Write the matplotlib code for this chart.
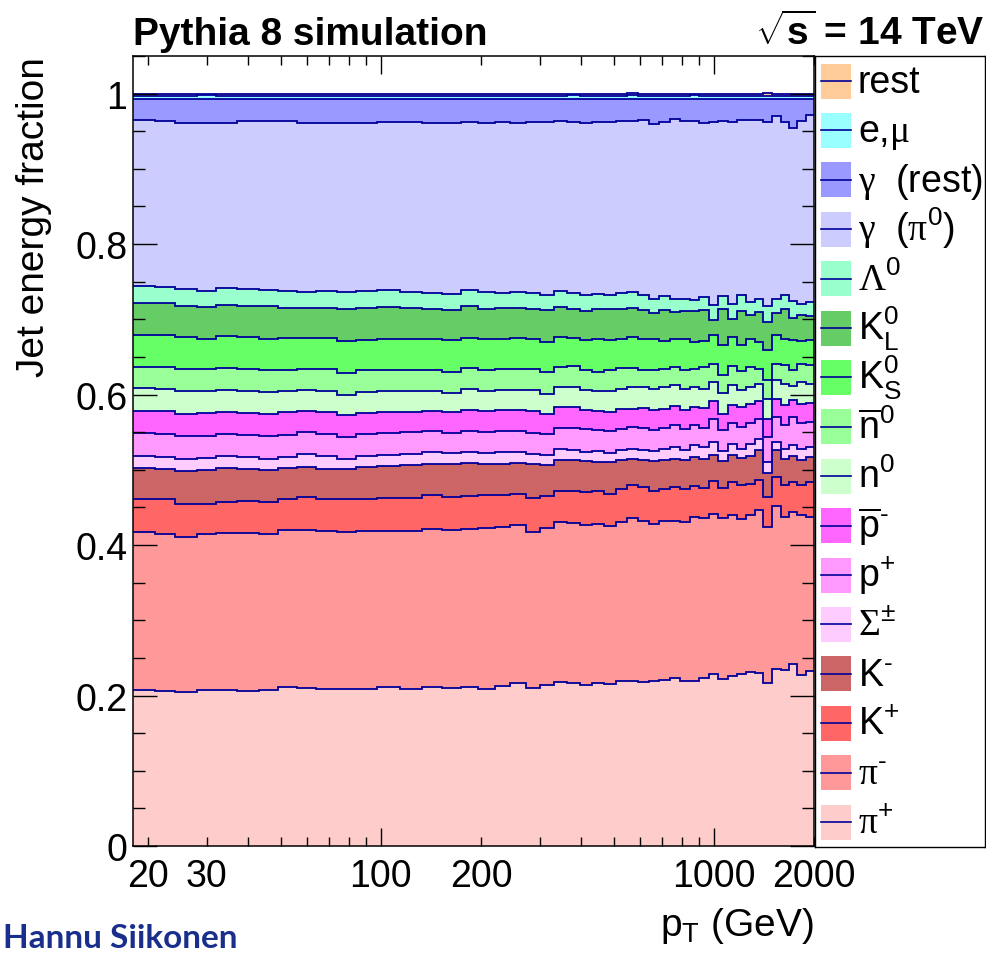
#Jet energy fraction carried by each particle species vs jet pT (stacked)
import numpy as np
import matplotlib
matplotlib.use("Agg")
import matplotlib.pyplot as plt
from matplotlib.patches import Rectangle

plt.rcParams['font.family'] = ['Liberation Sans', 'DejaVu Sans']
plt.rcParams['mathtext.fontset'] = 'custom'
plt.rcParams['mathtext.rm'] = 'Liberation Sans'
plt.rcParams['mathtext.it'] = 'Liberation Sans:italic'
plt.rcParams['mathtext.bf'] = 'Liberation Sans:bold'
plt.rcParams['mathtext.sf'] = 'Liberation Serif'

#pT bin edges (GeV)
pt_edges = [18, 21, 24, 28, 32, 37, 43, 49, 56, 64, 74, 84, 97, 114, 133, 153, 174, 196,
            220, 245, 272, 300, 330, 362, 395, 430, 468, 507, 548, 592, 638, 686, 737,
            790, 846, 905, 967, 1032, 1101, 1172, 1248, 1327, 1410, 1497, 1588, 1684,
            1784, 1890, 2000]

#energy fractions per bin, one list per species (bottom of the stack first)
pi_plus = [.2079, .2066, .2043, .2079, .2074, .2061, .2079, .2119, .2101, .2092, .2088, .2092,
           .2114, .2088, .2114, .2101, .2119, .2088, .2128, .2163, .2097, .2141, .2176, .2168,
           .2145, .2168, .2154, .2199, .2199, .2176, .2194, .2203, .2238, .2194, .2199, .2234,
           .2292, .2225, .2265, .2283, .2318, .2296, .2172, .2358, .2336, .2425, .2278, .2332]
pi_minus = [.2092, .2083, .2070, .2070, .2083, .2101, .2070, .2083, .2105, .2101, .2092, .2092,
            .2079, .2105, .2101, .2105, .2097, .2137, .2110, .2097, .2074, .2088, .2128, .2123,
            .2128, .2114, .2105, .2105, .2159, .2137, .2088, .2110, .2088, .2110, .2172, .2123,
            .2123, .2132, .2128, .2066, .2083, .2176, .2066, .2159, .2035, .2012, .2123, .2039]
k_plus = [.0443, .0457, .0434, .0399, .0412, .0430, .0421, .0412, .0430, .0421, .0426, .0426,
          .0430, .0430, .0452, .0439, .0430, .0434, .0430, .0421, .0452, .0417, .0408, .0434,
          .0430, .0430, .0421, .0443, .0434, .0457, .0430, .0434, .0443, .0443, .0412, .0399,
          .0430, .0399, .0443, .0443, .0412, .0386, .0399, .0386, .0421, .0399, .0399, .0465]
k_minus = [.0408, .0408, .0434, .0452, .0457, .0421, .0430, .0408, .0399, .0399, .0408, .0421,
           .0434, .0443, .0412, .0430, .0443, .0421, .0412, .0408, .0457, .0412, .0412, .0412,
           .0412, .0390, .0430, .0390, .0355, .0355, .0399, .0390, .0377, .0377, .0386, .0390,
           .0355, .0355, .0355, .0363, .0368, .0399, .0324, .0355, .0346, .0346, .0324, .0332]
sigma_pm = [.0168, .0155, .0164, .0155, .0155, .0155, .0146, .0146, .0177, .0168, .0133, .0151,
            .0146, .0146, .0155, .0146, .0146, .0146, .0155, .0146, .0133, .0133, .0155, .0120,
            .0120, .0142, .0115, .0120, .0133, .0133, .0133, .0142, .0155, .0133, .0155, .0155,
            .0168, .0133, .0155, .0124, .0164, .0146, .0142, .0111, .0142, .0151, .0155, .0133]
p_plus = [.0297, .0310, .0310, .0293, .0297, .0301, .0310, .0301, .0288, .0297, .0288, .0288,
          .0284, .0288, .0279, .0270, .0279, .0275, .0275, .0275, .0275, .0288, .0275, .0297,
          .0301, .0279, .0288, .0288, .0288, .0297, .0279, .0275, .0288, .0288, .0266, .0253,
          .0310, .0279, .0279, .0288, .0279, .0275, .0332, .0332, .0310, .0368, .0346, .0332]
p_bar = [.0297, .0297, .0288, .0306, .0288, .0284, .0288, .0297, .0288, .0288, .0288, .0284,
         .0279, .0275, .0275, .0275, .0275, .0275, .0279, .0279, .0288, .0266, .0279, .0279,
         .0253, .0253, .0262, .0257, .0244, .0266, .0266, .0257, .0257, .0244, .0244, .0266,
         .0230, .0222, .0230, .0266, .0253, .0230, .0244, .0244, .0266, .0222, .0253, .0257]
n_zero = [.0301, .0301, .0310, .0293, .0301, .0301, .0288, .0279, .0279, .0275, .0275, .0279,
          .0279, .0279, .0253, .0257, .0279, .0270, .0266, .0266, .0279, .0266, .0266, .0266,
          .0266, .0266, .0279, .0275, .0288, .0279, .0288, .0288, .0275, .0279, .0266, .0257,
          .0257, .0279, .0266, .0222, .0222, .0235, .0266, .0244, .0288, .0191, .0288, .0253]
n_bar = [.0284, .0284, .0288, .0288, .0284, .0288, .0301, .0288, .0275, .0293, .0293, .0288,
         .0288, .0275, .0279, .0275, .0284, .0284, .0279, .0288, .0279, .0288, .0266, .0275,
         .0266, .0257, .0266, .0275, .0257, .0230, .0244, .0244, .0244, .0253, .0244, .0288,
         .0244, .0230, .0253, .0253, .0266, .0199, .0244, .0222, .0244, .0208, .0244, .0244]
k_short = [.0426, .0426, .0421, .0403, .0426, .0417, .0408, .0421, .0412, .0417, .0421, .0408,
           .0408, .0412, .0421, .0430, .0403, .0403, .0408, .0412, .0408, .0399, .0399, .0381,
           .0399, .0434, .0399, .0390, .0408, .0412, .0421, .0363, .0377, .0412, .0355, .0341,
           .0377, .0399, .0390, .0346, .0377, .0355, .0399, .0377, .0355, .0399, .0297, .0332]
k_long = [.0421, .0426, .0421, .0426, .0417, .0421, .0430, .0399, .0395, .0399, .0421, .0421,
          .0421, .0412, .0399, .0390, .0421, .0408, .0412, .0399, .0399, .0421, .0399, .0386,
          .0390, .0399, .0412, .0399, .0386, .0377, .0346, .0412, .0355, .0372, .0412, .0412,
          .0199, .0479, .0235, .0452, .0310, .0399, .0377, .0301, .0390, .0297, .0346, .0319]
lambda_zero = [.0222, .0217, .0222, .0213, .0217, .0217, .0217, .0230, .0213, .0222, .0226, .0226,
               .0230, .0208, .0208, .0217, .0208, .0222, .0199, .0208, .0208, .0199, .0217, .0213,
               .0217, .0208, .0195, .0213, .0213, .0199, .0186, .0186, .0168, .0168, .0142, .0177,
               .0199, .0173, .0208, .0213, .0177, .0168, .0213, .0177, .0195, .0222, .0155, .0191]
gamma_pi0 = [.2216, .2207, .2207, .2238, .2203, .2234, .2243, .2252, .2252, .2234, .2247, .2238,
             .2230, .2261, .2265, .2270, .2238, .2247, .2265, .2252, .2270, .2305, .2252, .2270,
             .2287, .2278, .2296, .2278, .2270, .2327, .2327, .2318, .2403, .2363, .2380, .2318,
             .2438, .2327, .2416, .2336, .2425, .2380, .2447, .2438, .2296, .2309, .2429, .2482]
gamma_rest = [.0271, .0288, .0311, .0311, .0311, .0293, .0293, .0288, .0311, .0319, .0319, .0311,
              .0302, .0302, .0311, .0319, .0302, .0315, .0306, .0311, .0306, .0302, .0293, .0302,
              .0311, .0306, .0302, .0293, .0293, .0280, .0324, .0302, .0257, .0288, .0293, .0311,
              .0302, .0293, .0302, .0271, .0271, .0280, .0302, .0222, .0302, .0377, .0288, .0213]
e_mu = [.0050, .0050, .0050, .0050, .0050, .0050, .0050, .0050, .0050, .0050, .0050, .0050,
        .0050, .0050, .0050, .0050, .0050, .0050, .0050, .0050, .0050, .0050, .0050, .0050,
        .0050, .0050, .0050, .0050, .0050, .0050, .0050, .0050, .0050, .0050, .0050, .0050,
        .0045, .0045, .0045, .0045, .0045, .0045, .0045, .0045, .0045, .0045, .0045, .0045]
rest = [.0025, .0025, .0025, .0025, .0025, .0025, .0025, .0025, .0025, .0025, .0025, .0025,
        .0025, .0025, .0025, .0025, .0025, .0025, .0025, .0025, .0025, .0025, .0025, .0025,
        .0025, .0025, .0025, .0025, .0025, .0025, .0025, .0025, .0025, .0025, .0025, .0025,
        .0030, .0030, .0030, .0030, .0030, .0030, .0030, .0030, .0030, .0030, .0030, .0030]

species = [pi_plus, pi_minus, k_plus, k_minus, sigma_pm, p_plus, p_bar, n_zero, n_bar,
           k_short, k_long, lambda_zero, gamma_pi0, gamma_rest, e_mu, rest]
labels = [r'$\mathsf{\pi}^{+}$', '$\\mathsf{\\pi}^{\u2010}$', r'$\mathrm{K}^{+}$', '$\\mathrm{K}^{\u2010}$',
          r'$\mathsf{\Sigma}^{\pm}$', r'$\mathrm{p}^{+}$', '$\\overline{\\mathrm{p}}^{\u2010}$',
          r'$\mathrm{n}^{0}$', r'$\overline{\mathrm{n}}^{0}$', r'$\mathrm{K}^{0}_{\mathrm{S}}$',
          r'$\mathrm{K}^{0}_{\mathrm{L}}$', r'$\mathsf{\Lambda}^{0}$',
          r'$\mathsf{\gamma}$  ($\mathsf{\pi}^{0}$)', r'$\mathsf{\gamma}$  (rest)',
          r'e,$\mathsf{\mu}$', 'rest']
colors = ['#FFCCCC', '#FF9999', '#FF6666', '#CC6666', '#FFCCFF', '#FF99FF', '#FF66FF',
          '#CCFFCC', '#99FF99', '#66FF66', '#66CC66', '#99FFCC', '#CCCCFF', '#9999FF',
          '#99FFFF', '#FFCC99']
line_col = '#000099'

fig = plt.figure(figsize=(9.86, 9.54), dpi=100)
ax = fig.add_axes([133/986, 107/954, 681/986, 790/954])

fracs = np.array(species)
tops = np.cumsum(fracs, axis=0)
bottoms = tops - fracs
for top, bot, col in zip(tops, bottoms, colors):
    ax.stairs(top, pt_edges, baseline=bot, fill=True, color=col, lw=0)
for top in tops:
    ax.stairs(top, pt_edges, baseline=None, color=line_col, lw=1.3)

ax.set_xscale('log')
ax.set_xlim(18, 2000)
ax.set_ylim(0, 1.05)

minor_x = [20, 30, 40, 50, 60, 70, 80, 90, 200, 300, 400, 500, 600, 700, 800, 900, 2000]
minor_x_labels = ['20', '30', '', '', '', '', '', '', '200', '', '', '', '', '', '', '', '2000']
ax.set_xticks([100, 1000], labels=['100', '1000'])
ax.set_xticks(minor_x, labels=minor_x_labels, minor=True)
ax.set_yticks([0, 0.2, 0.4, 0.6, 0.8, 1.0], labels=['0', '0.2', '0.4', '0.6', '0.8', '1'])
ax.set_yticks(np.arange(0, 1.051, 0.05), minor=True)

ax.tick_params(axis='both', which='both', direction='in', top=True, right=True,
               labelsize=27, width=1.0, color='black')
ax.tick_params(axis='x', which='major', length=13, pad=9)
ax.tick_params(axis='x', which='minor', length=6.5, pad=9)
ax.tick_params(axis='y', which='major', length=17, pad=4)
ax.tick_params(axis='y', which='minor', length=8.5, pad=4)
for sp in ax.spines.values():
    sp.set_linewidth(1.1)

ax.set_ylabel('Jet energy fraction', fontsize=28, loc='top')
ax.yaxis.set_label_coords(-0.119, 1.0)
ax.set_xlabel(r'p$_\mathrm{T}$ (GeV)', fontsize=28, loc='right')
ax.xaxis.set_label_coords(1.0, -0.075)

fig.text(133/986, 1 - 45/954, 'Pythia 8 simulation', fontsize=28, fontweight='bold',
         ha='left', va='baseline')
fig.text(985/986, 1 - 45/954, r'$\sqrt{\mathbf{s}}$ = 14 TeV', fontsize=28, fontweight='bold',
         ha='right', va='baseline')
fig.text(3/986, 1 - 948/954, 'Hannu Siikonen', fontsize=24, fontweight='bold',
         family=['Lato', 'DejaVu Sans'], color='#1A2E8C', ha='left', va='baseline')

#legend drawn by hand, pixel units from the top of the box
leg = fig.add_axes([815/986, 106/954, 170/986, 791/954])
leg.set_xlim(0, 170)
leg.set_ylim(791, 0)
leg.set_xticks([])
leg.set_yticks([])
for sp in leg.spines.values():
    sp.set_linewidth(1.0)
for i, (lab, col) in enumerate(zip(labels[::-1], colors[::-1])):
    yc = 25 + i * 49.4
    leg.add_patch(Rectangle((6, yc - 17.5), 30, 35, facecolor=col, edgecolor='none'))
    leg.plot([6, 36], [yc, yc], color=line_col, lw=1.2)
    leg.text(43, yc + 11, lab, fontsize=27, ha='left', va='baseline')

fig.savefig('out.png', dpi=100)
